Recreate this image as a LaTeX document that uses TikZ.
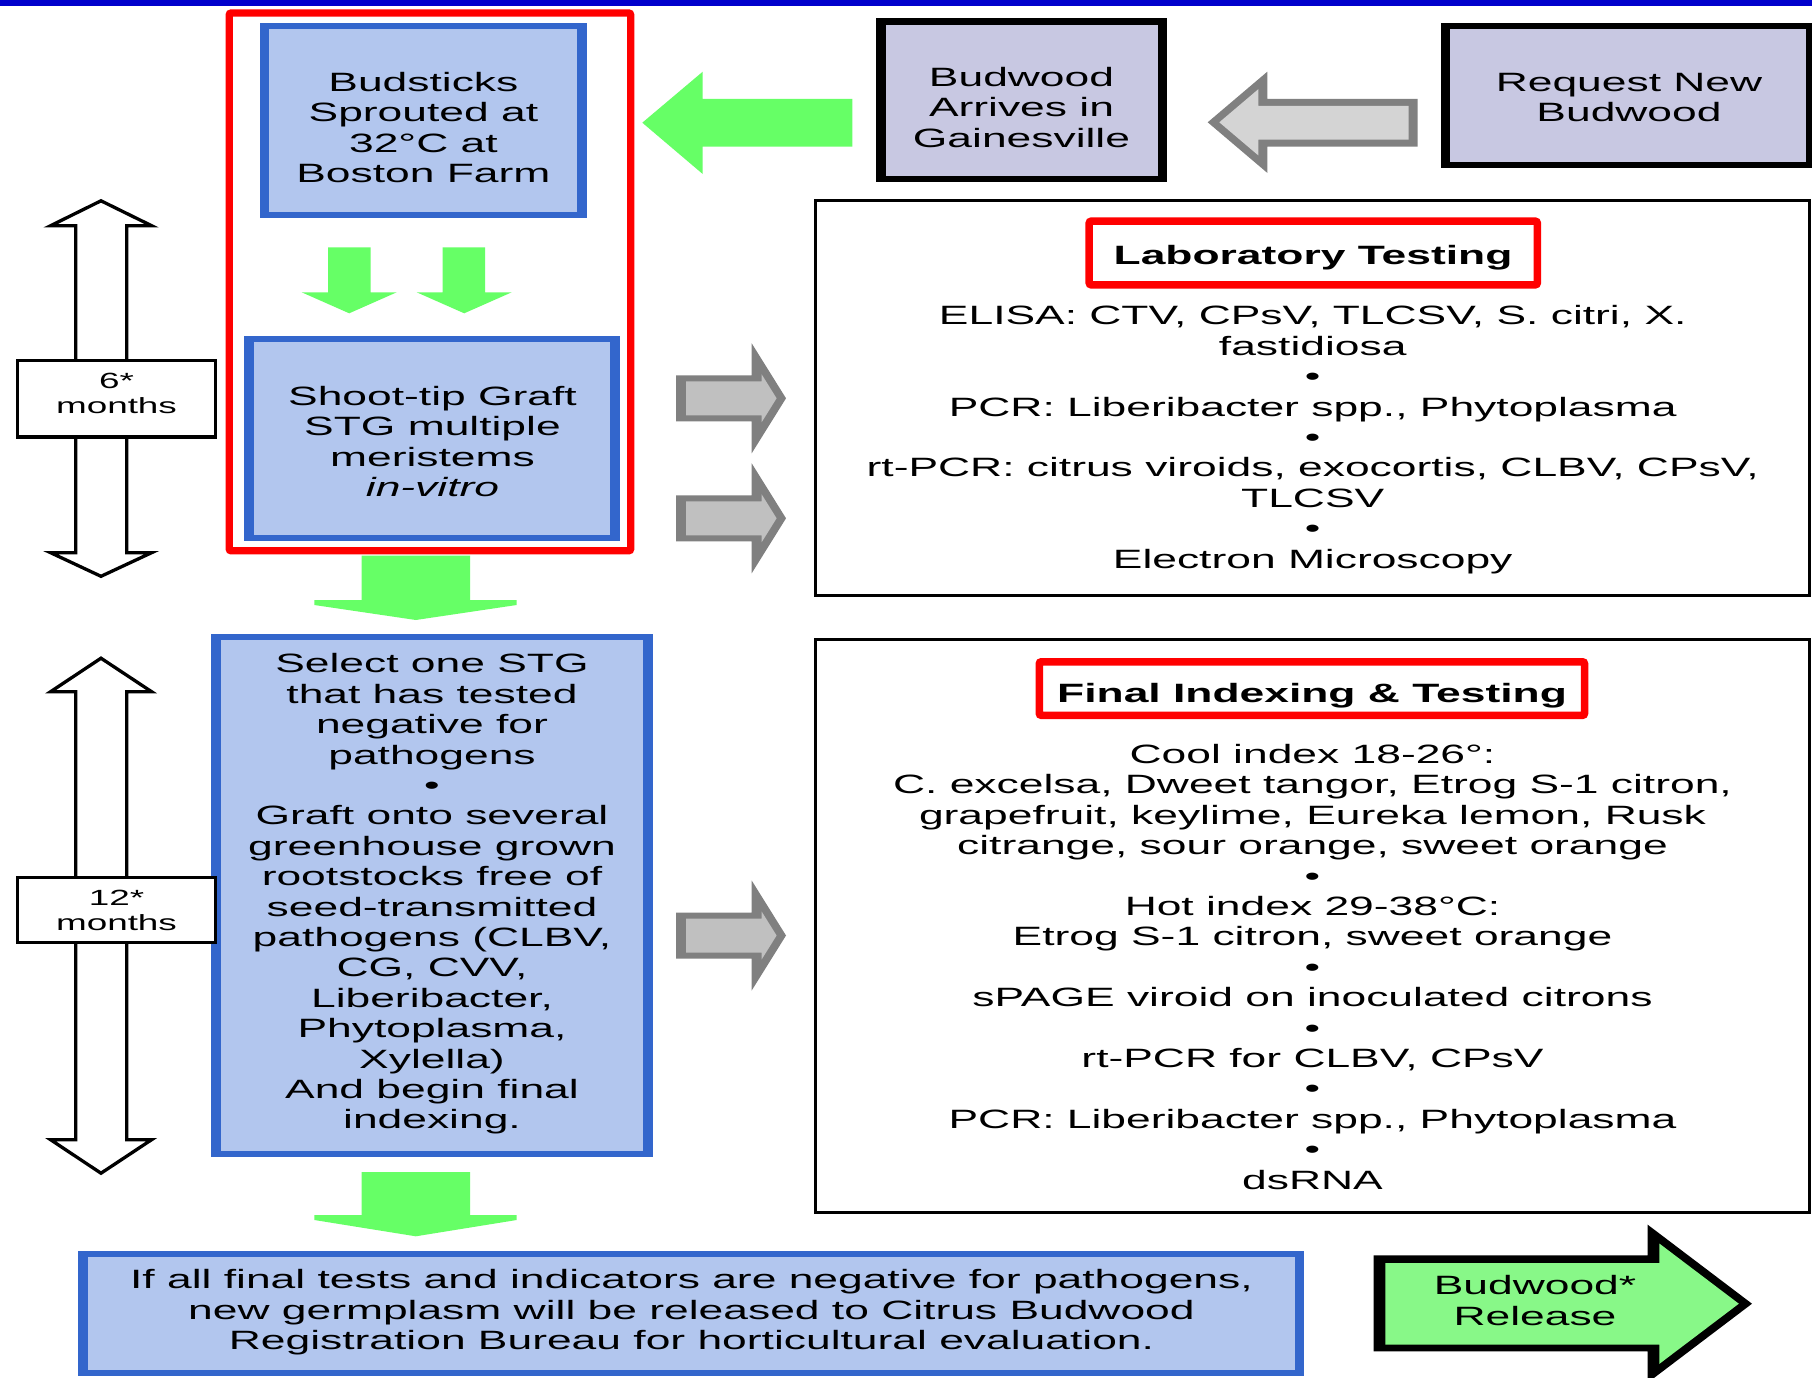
\documentclass[tikz,border=0pt]{standalone}
\usepackage{fontspec}
\newfontfamily\wf{Liberation Sans}[FakeStretch=1.675]
\definecolor{topblue}{HTML}{0000CC}
\definecolor{bborder}{HTML}{3366CC}
\definecolor{bfill}{HTML}{B2C6EE}
\definecolor{lavfill}{HTML}{C8C8E2}
\definecolor{agreen}{HTML}{66FF66}
\definecolor{rgreen}{HTML}{88F888}
\definecolor{agrey}{HTML}{808080}
\definecolor{lgrey}{HTML}{C0C0C0}
\definecolor{lgrey2}{HTML}{D4D4D4}
\tikzset{
  txt/.style={align=center, inner sep=0pt, font=\wf\fontsize{26.5}{30.4}\selectfont},
  stxt/.style={align=center, inner sep=0pt, font=\wf\fontsize{22}{25.3}\selectfont},
  redframe/.style={draw=red, line width=7.3, rounded corners=2},
  thinbox/.style={draw=black, line width=3},
  dblarrow/.style={draw=black, fill=white, line width=3.3, line join=miter},
  monthbox/.style={draw=black, fill=white, line width=3.3},
}
\newcommand{\greyright}[1]{%
  \fill[agrey] (676,#1-23) -- (751.7,#1-23) -- (751.7,#1-55) -- (786,#1) -- (751.7,#1+55) -- (751.7,#1+23) -- (676,#1+23) -- cycle;
  \fill[lgrey] (686,#1-17) -- (761.7,#1-17) -- (761.7,#1-23.9) -- (776.6,#1) -- (761.7,#1+23.9) -- (761.7,#1+17) -- (686,#1+17) -- cycle;}
\begin{document}
\begin{tikzpicture}[x=1pt,y=-1pt]
\useasboundingbox (0,0) rectangle (1812,1378);
\fill[white] (0,0) rectangle (1812,1378);
\fill[topblue] (0,0) rectangle (1812,5.7);

% ---------- left column ----------
\draw[redframe] (229.2,13) rectangle (630.7,550.8);

\fill[bborder] (260,22.7) rectangle (586.7,218.3);
\fill[bfill] (269,29.3) rectangle (576.7,212);
\node[txt] (budsticks) at (423.4,131.1) {\strut Budsticks\\Sprouted at\\32°C at\\Boston Farm\strut};

\fill[agreen] (328,247.3) -- (370.7,247.3) -- (370.7,292.3) -- (396.7,292.3) -- (349.2,313.3) -- (301.7,292.3) -- (328,292.3) -- cycle;
\fill[agreen] (442.7,247.3) -- (485,247.3) -- (485,292.3) -- (511.7,292.3) -- (464.2,313.3) -- (416.7,292.3) -- (442.7,292.3) -- cycle;

\fill[bborder] (244.3,336) rectangle (620,540.7);
\fill[bfill] (254.3,342.3) rectangle (610,535);
\node[txt] (shoottip) at (432.5,445) {\strut Shoot-tip Graft\\STG multiple\\meristems\\\textit{in-vitro}\strut};

\fill[agreen] (361.7,555.7) -- (470,555.7) -- (470,600) -- (516.7,600) -- (516.7,605) -- (415.8,620) -- (314.3,605) -- (314.3,600) -- (361.7,600) -- cycle;

\fill[bborder] (211,634) rectangle (653.3,1157);
\fill[bfill] (221,640) rectangle (643.3,1151.3);
\node[txt] (select) at (432,894.9) {\strut Select one STG\\that has tested\\negative for\\pathogens\\•\\Graft onto several\\greenhouse grown\\rootstocks free of\\seed-transmitted\\pathogens (CLBV,\\CG, CVV,\\Liberibacter,\\Phytoplasma,\\Xylella)\\And begin final\\indexing.\strut};

\fill[agreen] (361.7,1172) -- (470,1172) -- (470,1215) -- (516.7,1215) -- (516.7,1220) -- (415.8,1236.3) -- (314.3,1220) -- (314.3,1215) -- (361.7,1215) -- cycle;

\fill[bborder] (78.3,1250.7) rectangle (1304,1375.7);
\fill[bfill] (87.7,1257) rectangle (1294.5,1369.7);
\node[txt] (bottom) at (691.5,1313.1) {\strut If all final tests and indicators are negative for pathogens,\\new germplasm will be released to Citrus Budwood\\Registration Bureau for horticultural evaluation.\strut};

% ---------- time arrows ----------
\draw[dblarrow] (101,200.8) -- (151.6,225.7) -- (126.7,225.7) -- (126.7,552.7) -- (151.6,552.7) -- (101,576.3) -- (50.6,552.7) -- (75.7,552.7) -- (75.7,225.7) -- (50.6,225.7) -- cycle;
\draw[monthbox] (17.7,360.4) rectangle (215.3,437);
\node[stxt] (six) at (116.5,395.6) {\strut 6*\\months\strut};

\draw[dblarrow] (101,658.2) -- (151.6,691.7) -- (126.7,691.7) -- (126.7,1139.7) -- (151.6,1139.7) -- (101,1173.2) -- (50.6,1139.7) -- (75.7,1139.7) -- (75.7,691.7) -- (50.6,691.7) -- cycle;
\draw[monthbox] (17.7,877.4) rectangle (215.3,942.3);
\node[stxt] (twelve) at (116.5,913) {\strut 12*\\months\strut};

% ---------- top row ----------
\fill[agreen] (642.3,122.7) -- (702.7,71.7) -- (702.7,99) -- (852.3,99) -- (852.3,146.7) -- (702.7,146.7) -- (702.7,174) -- cycle;

\fill[black] (876,18.3) rectangle (1166.7,182.3);
\fill[lavfill] (886,25) rectangle (1157.7,175.7);
\node[txt] (arrives) at (1021.5,110.9) {\strut Budwood\\Arrives in\\Gainesville\strut};

\fill[agrey] (1207.7,122.3) -- (1267.3,71.7) -- (1267.3,99) -- (1417.7,99) -- (1417.7,146.7) -- (1267.3,146.7) -- (1267.3,172.9) -- cycle;
\fill[lgrey2] (1219.3,122.3) -- (1258.3,89.2) -- (1258.3,106) -- (1408.7,106) -- (1408.7,139.7) -- (1258.3,139.7) -- (1258.3,155.4) -- cycle;

\fill[black] (1441.3,22.7) rectangle (1812,168.3);
\fill[lavfill] (1450.3,29.3) rectangle (1806,161.7);
\node[txt] (request) at (1629,100.6) {\strut Request New\\Budwood\strut};

% ---------- grey arrows to testing ----------
\greyright{398.3}
\greyright{518.3}
\greyright{935.5}

% ---------- laboratory testing ----------
\draw[thinbox] (815.5,200.8) rectangle (1809,595.2);
\draw[redframe, line width=7.5] (1089.2,221.2) rectangle (1537.3,284.8);
\node[txt] (labtitle) at (1313,258.9) {\strut\textbf{Laboratory Testing}\strut};
\node[txt] (labtext) at (1312.7,440.5) {\strut ELISA: CTV, CPsV, TLCSV, S. citri, X.\\fastidiosa\\•\\PCR: Liberibacter spp., Phytoplasma\\•\\rt-PCR: citrus viroids, exocortis, CLBV, CPsV,\\TLCSV\\•\\Electron Microscopy\strut};

% ---------- final indexing ----------
\draw[thinbox] (815.5,639.2) rectangle (1809,1212.2);
\draw[redframe, line width=7.5] (1039.3,661.8) rectangle (1584.5,715.3);
\node[txt] (finaltitle) at (1312,696.6) {\strut\textbf{Final Indexing \& Testing}\strut};
\node[txt] (finaltext) at (1312.5,970.2) {\strut Cool index 18-26°:\\C. excelsa, Dweet tangor, Etrog S-1 citron,\\grapefruit, keylime, Eureka lemon, Rusk\\citrange, sour orange, sweet orange\\•\\Hot index 29-38°C:\\Etrog S-1 citron, sweet orange\\•\\sPAGE viroid on inoculated citrons\\•\\rt-PCR for CLBV, CPsV\\•\\PCR: Liberibacter spp., Phytoplasma\\•\\dsRNA\strut};

% ---------- release arrow ----------
\fill[black] (1373.7,1255.3) -- (1647.7,1255.3) -- (1647.7,1224.7) -- (1752,1303.7) -- (1647.7,1382.7) -- (1647.7,1351.3) -- (1373.7,1351.3) -- cycle;
\fill[rgreen] (1385.3,1263) -- (1659.3,1263) -- (1659.3,1243.5) -- (1738.8,1303.7) -- (1659.3,1363.9) -- (1659.3,1344.7) -- (1385.3,1344.7) -- cycle;
\node[txt] (release) at (1535,1303.9) {\strut Budwood*\\Release\strut};
\end{tikzpicture}
\end{document}
